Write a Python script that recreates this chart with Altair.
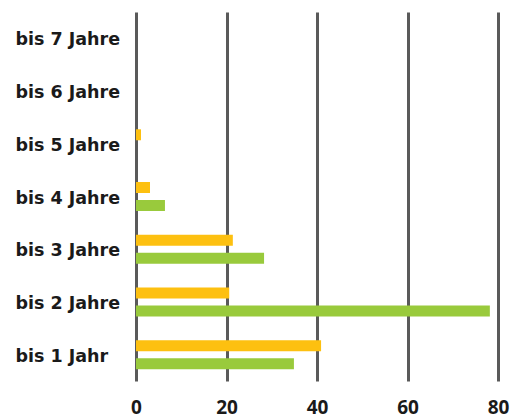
import altair as alt
import pandas as pd

categories = ["bis 1 Jahr", "bis 2 Jahre", "bis 3 Jahre", "bis 4 Jahre", "bis 5 Jahre", "bis 6 Jahre", "bis 7 Jahre"]
series_names = ["Gelb", "Grün"]
yellow_values = [40.9, 20.6, 21.4, 3.1, 1.1, 0, 0]
green_values = [34.9, 78.2, 28.3, 6.4, 0, 0, 0]
x_ticks = [0, 20, 40, 60, 80]
colors = ["#FDC010", "#99CA3C"]

rows = []
for c, yv, gv in zip(categories, yellow_values, green_values):
    rows.append({"Kategorie": c, "Reihe": series_names[0], "Wert": yv})
    rows.append({"Kategorie": c, "Reihe": series_names[1], "Wert": gv})
df = pd.DataFrame(rows)

chart = alt.Chart(df).mark_bar().encode(
    y=alt.Y("Kategorie:N", sort=list(reversed(categories)),
            scale=alt.Scale(paddingInner=0.45, paddingOuter=0.225),
            axis=alt.Axis(title=None, domain=False, ticks=False, labelPadding=121,
                          labelAlign="left", labelOffset=2, labelLimit=200,
                          labelFont="DejaVu Sans", labelFontSize=17.5, labelFontWeight="bold",
                          labelColor="#1a1a1a", grid=False)),
    yOffset=alt.YOffset("Reihe:N", sort=series_names,
                        scale=alt.Scale(paddingInner=0.39, paddingOuter=0)),
    x=alt.X("Wert:Q", scale=alt.Scale(domain=[0, 80], nice=False),
            axis=alt.Axis(title=None, values=x_ticks, domain=False, ticks=False,
                          grid=True, gridColor="#5a5a5a", gridWidth=3, gridOpacity=1,
                          labelPadding=17, labelFont="Open Sans", labelFontSize=19,
                          labelFlush=False, labelOverlap=False,
                          labelFontWeight="bold", labelColor="#1a1a1a")),
    color=alt.Color("Reihe:N", sort=series_names,
                    scale=alt.Scale(domain=series_names, range=colors), legend=None),
).properties(
    width=362, height=369,
    autosize=alt.AutoSizeParams(type="none"),
    padding={"left": 136, "top": 12, "right": 12, "bottom": 38},
).configure_view(stroke=None)

chart.save("out.html", embed_options={"renderer": "svg", "actions": False})
